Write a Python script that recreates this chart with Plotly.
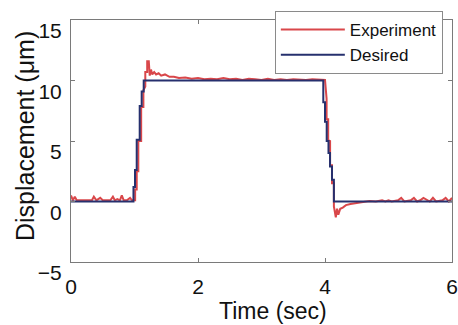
import plotly.graph_objects as go

# Desired (reference) trajectory: staircase steps (time in sec, displacement in um)
desired_t = [0.0, 0.984, 1.008, 1.035, 1.082, 1.113, 1.145, 3.973, 4.000, 4.027, 4.055, 4.079, 4.110, 4.140, 6.0]
desired_y = [0.0, 1.2, 2.6, 5.1, 7.9, 9.1, 10.0, 8.2, 6.6, 5.0, 4.0, 2.9, 1.8, 0.0, 0.0]

# Measured (experiment) response
exp_t = [0.00, 0.03, 0.06, 0.09, 0.14, 0.25, 0.33, 0.36, 0.40, 0.46, 0.50, 0.55, 0.62, 0.66, 0.69, 0.73,
         0.77, 0.80, 0.83, 0.88, 0.93, 0.96, 1.00,
         1.010, 1.010, 1.035, 1.035, 1.060, 1.060, 1.105, 1.105, 1.140, 1.140, 1.170, 1.170, 1.200, 1.200,
         1.225, 1.240, 1.260, 1.280, 1.310, 1.340, 1.380, 1.420, 1.480, 1.550, 1.620, 1.700, 1.800, 1.900,
         2.000, 2.100, 2.200, 2.300, 2.400, 2.500, 2.600, 2.700, 2.800, 2.900, 3.000, 3.100, 3.200, 3.300,
         3.400, 3.500, 3.600, 3.700, 3.800, 3.900, 3.990,
         4.000, 4.025, 4.025, 4.050, 4.050, 4.080, 4.080, 4.110, 4.110, 4.140, 4.140, 4.170, 4.190, 4.210,
         4.240, 4.280, 4.330, 4.400, 4.500, 4.600, 4.700, 4.800, 4.900, 4.950, 5.000, 5.050, 5.150, 5.200,
         5.250, 5.350, 5.400, 5.450, 5.500, 5.550, 5.650, 5.700, 5.750, 5.850, 5.900, 5.950, 6.000]
exp_y = [0.5, 0.1, 0.4, 0.1, 0.1, 0.1, 0.1, 0.4, 0.1, 0.3, 0.1, 0.1, 0.1, 0.4, 0.1, 0.2,
         0.1, 0.5, 0.1, 0.1, 0.3, 0.1, 0.1,
         0.1, 1.0, 1.0, 2.5, 2.5, 5.0, 5.0, 7.8, 7.8, 9.2, 9.5, 10.7, 10.7, 11.6,
         11.6, 10.4, 10.9, 10.5, 10.7, 10.5, 10.6, 10.4, 10.5, 10.3, 10.3, 10.2, 10.25, 10.15,
         10.2, 10.1, 10.15, 10.1, 10.2, 10.1, 10.15, 10.05, 10.15, 10.1, 10.05, 10.15, 10.05, 10.1,
         10.05, 10.1, 10.05, 10.05, 10.1, 10.05, 10.05,
         10.05, 8.5, 6.8, 6.8, 5.1, 5.0, 3.0, 3.0, 1.5, 1.5, -0.4, -1.3, -0.6, -1.1,
         -0.6, -0.5, -0.3, -0.2, -0.1, 0.0, 0.05, 0.0, 0.1, 0.0, 0.1, 0.0, 0.1, 0.3,
         0.0, 0.1, 0.3, 0.0, 0.1, 0.3, 0.0, 0.3, 0.0, 0.1, 0.3, 0.0, 0.3]

x_ticks = [0, 2, 4, 6]
y_ticks = [-5, 0, 5, 10, 15]

fig = go.Figure()
fig.add_trace(go.Scatter(x=exp_t, y=exp_y, mode="lines", name="Experiment",
                         line=dict(color="#d9474a", width=2)))
fig.add_trace(go.Scatter(x=desired_t, y=desired_y, mode="lines", name="Desired",
                         line=dict(color="#26306e", width=2, shape="hv")))

axis_common = dict(showgrid=False, zeroline=False, showline=True, linecolor="#7a7a7a",
                   linewidth=1, mirror="ticks", ticks="inside", ticklen=4, tickcolor="#7a7a7a",
                   automargin=False,
                   tickfont=dict(family="Liberation Sans, Arial, sans-serif", size=21, color="#111"))

fig.update_layout(
    width=458, height=325,
    margin=dict(l=71, r=6, t=20, b=63),
    paper_bgcolor="white", plot_bgcolor="white",
    showlegend=True,
    legend=dict(x=0.535, y=1.037, xanchor="left", yanchor="top",
                bgcolor="white", bordercolor="#8a8a8a", borderwidth=1,
                font=dict(family="Liberation Sans, Arial, sans-serif", size=17, color="#111"),
                itemwidth=64, tracegroupgap=0),
    xaxis=dict(range=[0, 6], tickvals=x_ticks, ticklabelstandoff=6, **axis_common),
    yaxis=dict(range=[-5, 15], tickvals=y_ticks, ticklabelshift=11, ticklabelstandoff=4,
               **axis_common),
    annotations=[
        dict(text="Time (sec)", xref="paper", yref="paper", x=0.53, y=-0.26,
             xanchor="center", yanchor="bottom", showarrow=False, borderpad=0,
             font=dict(family="Liberation Sans, Arial, sans-serif", size=23, color="#111")),
        dict(text="Displacement (μm)", xref="paper", yref="paper", x=-0.121, y=0.52,
             xanchor="center", yanchor="middle", showarrow=False, textangle=-90,
             font=dict(family="Liberation Sans, Arial, sans-serif", size=25, color="#111")),
    ],
)

fig.write_html("out.html")
